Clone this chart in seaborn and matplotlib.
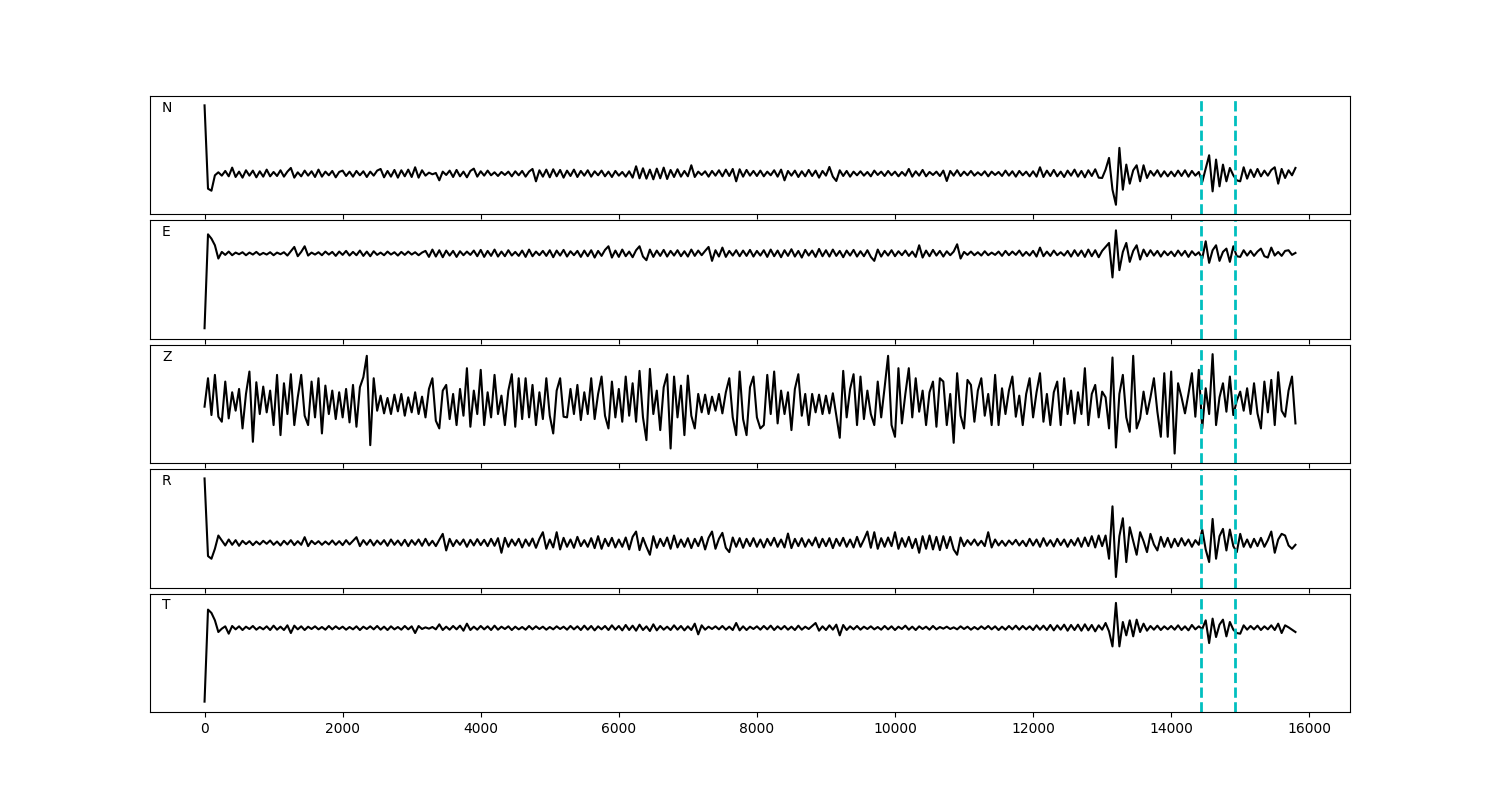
import numpy as np
import matplotlib
matplotlib.use("Agg")
import matplotlib.pyplot as plt
import seaborn as sns

# ---------------- data (amplitudes, arbitrary units, step 50) ----------------
sample_step = 50
components = ["N", "E", "Z", "R", "T"]
pick_times = [14430, 14920]

trace_N = [
    204, -45, -51, -5, 4, -6, 8, -8, 18, -10, 6, -12, 10, -6, 9, -11, 7, -9, 12, -8,
    5, -7, 10, -9, 6, 17, -12, 4, -8, 9, -6, 7, -10, 12, -9, 6, -5, 8, -11, 5,
    9, -7, 6, -9, 8, -5, 7, -10, 6, -6, 9, 14, -11, 8, -9, 11, -12, 10, -8, 12,
    -10, 19, -12, 10, -6, 3, -2, 2, -20, 6, -4, 9, -10, 11, -8, 6, -11, 8, 15, -9,
    7, -6, 9, -5, 4, -7, 5, -4, 6, -8, 7, -5, 8, -9, 6, 14, -23, 10, -9, 12,
    -11, 13, -8, 11, -12, 9, -7, 12, -10, 8, -6, 10, -9, 7, -5, 9, -8, 6, -10, 8,
    -6, 5, -9, 7, -12, 22, -14, 16, -15, 12, -17, 15, -14, 18, -16, 11, -10, 13, -9, 8,
    -8, 25, -10, 6, -4, 7, -9, 8, -6, 10, -8, 12, -7, 14, -23, 13, -9, 11, -6, 8,
    -7, 9, -8, 6, -5, 10, -9, 12, -20, 8, -6, 9, -10, 7, -8, 11, -7, 9, -12, 8,
    -6, 20, -9, -22, 10, -7, 8, -9, 6, -5, 7, -6, 5, -8, 9, -4, 6, -7, 8, -5,
    6, -8, 5, -6, 14, -9, 7, -6, 11, -8, 5, -4, 6, -7, 9, -22, 8, -6, 10, -7,
    6, -5, 8, -6, 4, -5, 7, -8, 6, -4, 5, -7, 9, -6, 7, -9, 8, -5, 6, -8,
    7, -9, 19, -10, 9, -7, 11, -8, 6, -10, 9, -6, 12, -9, 8, -11, 10, -7, 13, -12,
    -13, 12, 47, -48, -93, 77, -48, 27, -30, 10, 25, -23, 25, -13, 8, -6, 10, -9, 7, -8,
    6, -8, 9, -7, 10, -9, 8, -6, 5, -25, 15, 55, -53, 42, -38, 27, -23, 17, -5, -20,
    -23, 19, -15, 12, -10, 14, -8, 9, -6, 11, 19, -30, 14, -13, 10, -5, 17,
]

trace_E = [
    -225, 58, 45, 25, -15, 5, -4, 6, -5, 3, -2, 4, -5, 3, -3, 5, -4, 2, -3, 4,
    -5, 3, -2, 4, -6, 7, 20, -8, 5, 22, -6, 3, -3, 4, -5, 6, -3, 5, -7, 6,
    -4, 8, -6, 5, -5, 9, -7, 6, -8, 7, -4, 3, -5, 6, -3, 4, -6, 5, -4, 6,
    -3, 4, -5, 3, 8, -10, 12, -9, 10, -11, 9, -6, 8, -10, 7, -5, 6, -4, 9, -8,
    11, -10, 8, -7, 12, -9, 6, -8, 10, -6, 5, -7, 9, -10, 12, -8, 6, -5, 8, -7,
    10, -11, 9, -6, 11, -9, 7, -5, 8, -10, 9, -8, 10, -12, 8, -7, 11, 22, -12, 9,
    -10, 12, -8, 6, -11, 10, 22, -9, -20, 12, -10, 9, -7, 11, -9, 8, -6, 10, -8, 7,
    -9, 12, -7, 9, -5, 8, 20, -22, 10, -9, 18, -10, 8, -6, 10, -8, 9, -7, 11, -9,
    8, -6, 10, -10, 12, -8, 9, -11, 10, -7, 13, -9, 8, -12, 11, -6, 9, -10, 14, -8,
    10, -9, 12, -7, 8, -11, 9, -6, 11, -9, 7, -8, 10, -10, -22, 12, -9, 8, -6, 10,
    -8, 7, -5, 9, -7, 6, -10, 25, -12, 9, -8, 11, -6, 8, -9, 7, -5, 6, 28, -15,
    5, -4, 6, -5, 4, -6, 7, -5, 3, -4, 6, -7, 8, -5, 6, -4, 9, -7, 5, -6,
    8, -9, 18, -8, 6, -7, 9, -5, 4, -6, 8, -9, 10, -7, 9, -10, 12, -8, 10, -11,
    8, 20, 32, -72, 70, -50, 5, 32, -25, 8, 25, -18, 12, -8, 10, -6, 8, -9, 7, -5,
    6, -8, 9, -6, 8, -10, 7, -5, 4, -15, 37, -28, 10, 25, -22, 5, 15, -25, 22, -8,
    -10, 10, -6, 8, -7, 6, 15, -8, -12, 18, -6, 5, -7, 8, 10, -4, 2,
]

trace_Z = [
    -8, 77, -33, 87, -38, -53, 67, -43, 35, -20, 45, -73, 30, 97, -113, 65, -30, 52, -25, 40,
    -63, 87, -93, 62, -30, 89, -63, 20, 87, -35, -63, 67, -40, 77, -88, 55, -30, 40, -45, 35,
    -40, 45, -55, 57, -68, 50, 80, 144, -123, 77, -20, 25, -28, 18, -30, 28, -22, 30, -35, 20,
    -25, 35, -30, 22, -40, 45, 77, -50, -73, 40, 57, -45, 30, -63, 45, -35, 107, -68, 40, -30,
    102, -63, 35, -40, 87, -30, 25, -63, 40, 89, -68, 77, -45, 77, -40, 57, -63, 35, -45, 77,
    -35, -88, 40, 77, -38, -40, 45, -30, 57, -48, 35, -30, 77, -45, 30, 82, -35, -73, 67, -40,
    45, -53, 82, -35, 62, -53, 99, -40, -108, 105, -30, 40, -78, 50, 89, -133, 82, -40, 55, -93,
    85, -35, -73, 30, -25, 28, -30, 22, -20, 30, -28, 35, 77, -40, -93, 97, -45, -93, 50, 82,
    -40, -73, -63, 87, -30, 97, -58, 40, -30, 35, -78, 45, 89, -35, 30, -63, 30, -25, 28, -30,
    25, -28, 32, -35, -101, 99, -40, 45, 89, -63, 82, -45, 40, -30, -63, 67, -40, 50, 144, -63,
    -98, 107, -58, 30, 107, -40, 77, -23, 40, -63, 35, 67, -68, 77, 67, -63, 30, -116, 92, -35,
    -73, 72, 57, -53, 40, 77, -35, 30, -63, 87, -63, 47, -30, 40, 82, -38, 25, -63, 30, 77,
    -40, 35, 92, -53, 30, -63, 35, 67, -63, 77, -30, 40, -58, 35, -30, 107, -63, 30, 57, -40,
    37, 20, -73, 139, -130, 30, 87, -40, -83, 144, -73, -43, 37, -30, 20, 77, -23, -98, 92, -98,
    97, -148, 62, 20, -28, 30, 92, -38, 102, -73, 47, -30, 149, -63, 20, 62, -23, 82, -33, 10,
    37, -20, 47, -30, 62, -28, -73, 67, -25, 72, -63, 95, -20, -38, 40, 82, -58,
]

trace_R = [
    194, -40, -48, -18, 22, 7, -8, 10, -6, 8, -9, 6, -4, 5, -7, 4, -5, 6, -3, 7,
    -6, 4, -8, 6, -5, 8, -7, 5, -6, 17, -10, 6, -4, 5, -6, 4, -5, 7, -6, 5,
    -7, 8, -5, 6, 17, -10, 8, -6, 9, -8, 7, -5, 8, -9, 10, -6, 7, -8, 9, -10,
    8, -6, 10, -9, 12, -8, 6, -10, 9, 27, -23, 12, -10, 8, -6, 10, -12, 9, -8, 11,
    -7, 9, -10, 12, -9, 14, -30, 15, -12, 10, -8, 12, -14, 10, -9, 13, -15, 12, 32, -18,
    10, -14, 32, -20, 15, -12, 10, -15, 18, -10, 8, -12, 14, -16, 20, -18, 12, -10, 15, -14,
    10, -12, 16, -20, 18, 34, -22, 15, -12, -36, 20, -15, 12, -10, 16, -18, 22, -14, 10, -12,
    14, -16, 12, -10, 18, -20, 15, 34, -18, 12, 30, -15, -28, 16, -12, 14, -15, 12, -10, 14,
    -12, 10, -14, 12, -8, 15, -12, 10, -14, 28, -16, 12, -10, 14, -12, 10, -8, 16, -14, 12,
    -10, 14, -16, 12, -9, 15, -12, 10, -14, 18, -12, 10, 34, -15, 32, -18, 14, -12, 16, -10,
    32, -18, 14, -12, 18, -16, 12, -30, 20, -18, 22, -20, 18, -22, 20, -16, 18, -20, -36, 16,
    -10, 8, -6, 10, -8, 6, -10, 32, -14, 10, -8, 6, -9, 7, -5, 9, -8, 6, -10, 12,
    -8, 10, -12, 14, -9, 8, -11, 12, -7, 10, -12, 9, -8, 14, -12, 16, -10, 20, -14, 22,
    -10, 22, -48, 110, -103, 20, 74, -58, 47, 5, -36, 32, 5, -28, 27, -5, -23, 18, -12, 15,
    -14, 12, -10, 14, -8, 10, -12, 8, -6, 40, -20, -58, 72, -48, 20, 42, -23, 40, -10, -28,
    27, -12, 10, -14, 12, -10, 15, -12, 8, 34, -30, 10, 27, 22, -8, -18, -6,
]

trace_T = [
    -220, 55, 45, 23, -12, -2, 5, -17, 6, -4, 5, -6, 4, -3, 6, -5, 3, -4, 5, -6,
    7, -5, 4, -6, 8, -15, 7, -4, 5, -6, 4, -3, 5, -4, 3, -5, 6, -4, 5, -3,
    4, -5, 3, -4, 5, -6, 4, -3, 5, -4, 6, -5, 4, -6, 5, -4, 3, -5, 6, -4,
    5, -15, 6, -3, 2, -2, 3, -4, 11, -6, 4, -5, 6, -4, 7, -8, 13, -6, 4, -5,
    6, -4, 5, -6, 7, -5, 4, -3, 5, -6, 4, -4, 3, -5, 6, -4, 5, -3, 4, -5,
    3, -4, 5, -3, 4, -5, 6, -4, 5, -6, 7, -5, 6, -7, 5, -4, 6, -6, 8, -5,
    6, -7, 9, -6, 7, -8, 10, -6, 5, -9, 11, -7, 6, -5, 4, -6, 8, -5, 6, -7,
    5, -6, 13, -19, 8, -5, 4, -3, 5, -4, 6, -5, 4, -6, 15, -7, 5, -6, 4, -3,
    5, -5, 6, -4, 7, -6, 5, -4, 6, -5, 4, -6, 7, -5, 4, -3, 6, 15, -8, 5,
    -6, 8, -5, 10, -22, 9, -6, 5, -4, 6, -5, 4, -3, 5, -4, 3, -5, 6, -4, 5,
    -6, 4, -3, 7, -5, 4, -6, 5, -3, 4, -5, 6, -4, 3, -2, 4, -3, 2, -4, 5,
    -3, 4, -5, 3, -4, 5, -3, 6, -4, 5, -6, 4, -5, 6, -4, 7, -5, 6, -4, 5,
    -6, 8, -5, 7, -6, 9, -7, 8, -5, 10, -8, 9, -6, 10, -8, 11, -7, 9, -10, 8,
    -5, 15, -10, -55, 75, -55, 18, -22, 23, -25, 25, -12, 13, -8, 6, -5, 7, -6, 5, -4,
    6, -5, 8, -6, 5, -7, 9, -4, 5, -3, 23, -45, 28, -27, 10, 25, -25, 18, -5, -15,
    -17, 8, -5, 6, -4, 7, -6, 5, -4, 8, -6, 13, -15, 8, 2, -5, -12,
]

traces = [trace_N, trace_E, trace_Z, trace_R, trace_T]

# ---------------- style / layout ----------------
panel_ylims = [(-122, 232), (-257, 100), (-177, 177), (-135, 222), (-251, 103)]

fig, axes = plt.subplots(5, 1, figsize=(15, 8), dpi=100, sharex=True)
fig.subplots_adjust(left=0.1, right=0.9, top=0.88, bottom=0.11, hspace=0.05)

for ax, name, values, ylim in zip(axes, components, traces, panel_ylims):
    vals = np.asarray(values, dtype=float)
    t = sample_step * np.arange(len(vals))
    sns.lineplot(x=t, y=vals, ax=ax, color="black", linewidth=1.5,
                 estimator=None, sort=False)
    for pt in pick_times:
        ax.axvline(pt, color="c", linestyle="--", linewidth=2)
    ax.set_ylim(*ylim)
    ax.set_yticks([])
    ax.set_xlabel("")
    ax.set_ylabel("")
    ax.text(0.01, 0.9, name, transform=ax.transAxes, ha="left", va="center",
            fontsize=10)

fig.savefig("out.png", dpi=100)
